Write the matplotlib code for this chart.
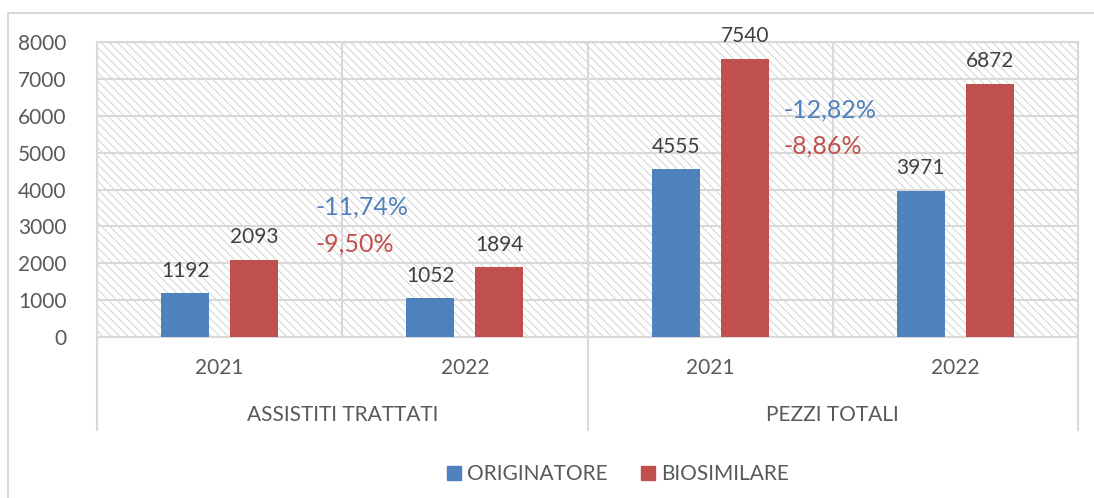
import matplotlib
matplotlib.use("Agg")
from matplotlib import pyplot as plt
from matplotlib.patches import Rectangle, Patch
import numpy as np

# data
years = ["2021", "2022", "2021", "2022"]
groups = ["ASSISTITI TRATTATI", "PEZZI TOTALI"]
originatore = [1192, 1052, 4555, 3971]
biosimilare = [2093, 1894, 7540, 6872]
pct_labels = [["-11,74%", "-9,50%"], ["-12,82%", "-8,86%"]]
pct_x = [0.39, 2.30]
pct_y = [[3520, 2520], [6150, 5180]]

blue = "#4F81BD"
red = "#C0504D"
grid_col = "#d9d9d9"
tick_col = "#595959"
lab_col = "#404040"

plt.rcParams['font.family'] = ['Lato', 'DejaVu Sans']
plt.rcParams['hatch.linewidth'] = 0.7

fig = plt.figure(figsize=(10.94, 4.98), dpi=100)
ax = fig.add_axes([97/1094, 1-337/498, (1078-97)/1094, (337-42)/498])

# outer frame of the chart
fig.patches.append(Rectangle((8/1094, -0.05), 1.1, 1-13/498+0.05,
                             transform=fig.transFigure, fill=False,
                             edgecolor=grid_col, lw=1.5))

# hatched plot area
ax.add_patch(Rectangle((0, 0), 1, 1, transform=ax.transAxes, facecolor="white",
                       edgecolor="#d4d4d4", lw=0, hatch="\\\\\\\\", zorder=0))

x = np.arange(len(years))
w = 0.196
off = 0.141
b1 = ax.bar(x - off, originatore, w, color=blue, zorder=3)
b2 = ax.bar(x + off, biosimilare, w, color=red, zorder=3)

for bars in (b1, b2):
    for r in bars:
        ax.annotate(str(int(r.get_height())), (r.get_x() + r.get_width()/2, r.get_height()),
                    xytext=(0, 9), textcoords="offset points", ha="center", va="bottom",
                    fontsize=15, color=lab_col, zorder=4)

for i in range(2):
    ax.text(pct_x[i], pct_y[i][0], pct_labels[i][0], color=blue, fontsize=18,
            ha="left", va="center", zorder=4)
    ax.text(pct_x[i], pct_y[i][1], pct_labels[i][1], color=red, fontsize=18,
            ha="left", va="center", zorder=4)

ax.set_xlim(-0.5, 3.5)
ax.set_ylim(0, 8000)
ax.set_yticks(np.arange(0, 8001, 1000))
ax.tick_params(axis="y", length=0, pad=22, labelsize=15, labelcolor=tick_col)
ax.set_xticks([])

ax.grid(axis="y", color=grid_col, lw=1.5, zorder=1)
for xv in [0.5, 1.5, 2.5]:
    ax.axvline(xv, color=grid_col, lw=1.5, zorder=1)
for s in ax.spines.values():
    s.set_color(grid_col)
    s.set_linewidth(1.5)

# two-level category axis
xt = ax.get_xaxis_transform()
for i, yr in enumerate(years):
    ax.annotate(yr, (i, 0), xycoords=xt, xytext=(0, -22), textcoords="offset points",
                ha="center", va="center", fontsize=15, color=tick_col)
for i, g in enumerate(groups):
    ax.annotate(g, (2*i + 0.5, 0), xycoords=xt, xytext=(0, -56), textcoords="offset points",
                ha="center", va="center", fontsize=15, color=tick_col)
for xv in [-0.5, 1.5, 3.5]:
    ax.plot([xv, xv], [0, -93/295], transform=xt, color=grid_col, lw=1.5, clip_on=False)

handles = [Patch(color=blue, label="ORIGINATORE"), Patch(color=red, label="BIOSIMILARE")]
leg = fig.legend(handles=handles, loc="center", bbox_to_anchor=(618/1094, 1-474/498),
                 ncol=2, frameon=False, fontsize=15, handlelength=0.65, handleheight=0.65,
                 handletextpad=0.3, columnspacing=1.6)
for t in leg.get_texts():
    t.set_color(tick_col)

fig.savefig("out.png", dpi=100)
